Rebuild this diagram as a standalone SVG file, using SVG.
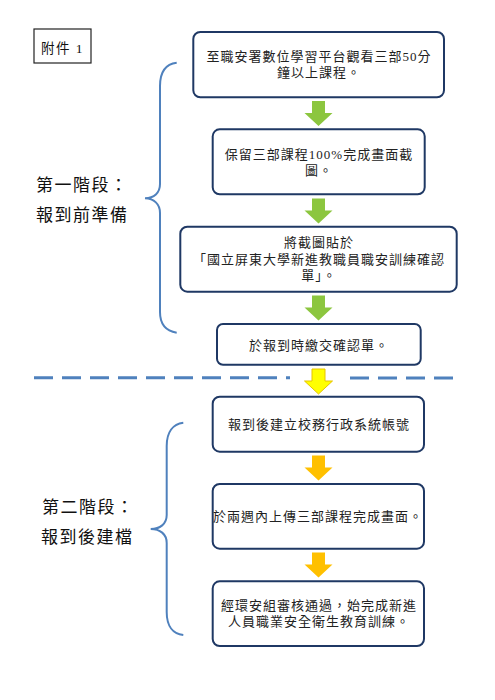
<svg xmlns="http://www.w3.org/2000/svg" width="495" height="700" viewBox="0 0 495 700">
<defs>
<style>
.box{fill:#fff;stroke:#1f3864;stroke-width:2}
.t{font-family:"Liberation Serif","Noto Sans CJK TC",serif;font-size:13px;letter-spacing:1px;fill:#222;text-anchor:middle}
.stage{font-family:"Liberation Serif","Noto Sans CJK TC",serif;font-size:17px;letter-spacing:1.5px;fill:#111}
.brace{fill:none;stroke:#4f81bd;stroke-width:2}
.green{fill:#8cc63f}
.yellow{fill:#ffff00;stroke:#e6c300;stroke-width:1}
.orange{fill:#ffc000}
</style>
<path id="arr" d="M-6.5,0 H6.5 V12 H14 L0,25 L-14,12 H-6.5 Z"/>
</defs>
<rect width="495" height="700" fill="#fff"/>

<g id="tag">
<rect x="34" y="29" width="57" height="34" fill="#fff" stroke="#222" stroke-width="1.2"/>
<text x="62.5" y="52.5" font-family="Liberation Serif,'Noto Sans CJK TC',serif" font-size="13.5" letter-spacing="1.5" text-anchor="middle" fill="#111">附件 1</text>
</g>

<g id="stage1">
<text class="stage" x="36" y="191">第一階段：</text>
<text class="stage" x="36" y="221">報到前準備</text>
</g>
<g id="stage2">
<text class="stage" x="42" y="513">第二階段：</text>
<text class="stage" x="41" y="543">報到後建檔</text>
</g>

<g id="braces">
<path class="brace" d="M176.7,62.7 C166,64 160,72 160,86 L160,184 C160,193 154,198 145,198.3 C154,198.6 160,204 160,213 L160,312 C160,325 166,331 176.7,332.7"/>
<path class="brace" d="M183.3,422.7 C173,424 166.7,432 166.7,446 L166.7,515 C166.7,524 160,529 150.7,529 C160,529 166.7,534 166.7,543 L166.7,612 C166.7,626 173,634 183.3,635"/>
</g>

<g id="divider">
<line x1="34" y1="377.7" x2="290" y2="377.7" stroke="#4f81bd" stroke-width="3" stroke-dasharray="19,9"/>
<line x1="350" y1="378" x2="453" y2="378" stroke="#4f81bd" stroke-width="3" stroke-dasharray="19,9"/>
</g>

<g id="connectors">
<use href="#arr" class="green" x="318.5" y="101"/>
<use href="#arr" class="green" x="318.5" y="198.5"/>
<use href="#arr" class="green" x="318.5" y="295.5"/>
<use href="#arr" class="yellow" x="318.5" y="369"/>
<use href="#arr" class="orange" x="318.5" y="455.5"/>
<use href="#arr" class="orange" x="318.5" y="552.5"/>
</g>

<g id="n1">
<rect class="box" x="193.3" y="32" width="250.7" height="65.3" rx="7"/>
<text class="t" x="319" y="60.5">至職安署數位學習平台觀看三部50分</text>
<text class="t" x="319" y="77">鐘以上課程。</text>
</g>
<g id="n2">
<rect class="box" x="212.7" y="129.3" width="212" height="65" rx="7"/>
<text class="t" x="319" y="158.5">保留三部課程100%完成畫面截</text>
<text class="t" x="319" y="175">圖。</text>
</g>
<g id="n3">
<rect class="box" x="180.3" y="226.7" width="276.4" height="65" rx="7"/>
<text class="t" x="319" y="247">將截圖貼於</text>
<text class="t" x="319" y="263.5">「國立屏東大學新進教職員職安訓練確認</text>
<text class="t" x="319" y="279.5">單」。</text>
</g>
<g id="n4">
<rect class="box" x="217" y="324" width="203.7" height="40.7" rx="6"/>
<text class="t" x="319" y="349.5">於報到時繳交確認單。</text>
</g>
<g id="n5">
<rect class="box" x="212.7" y="396.7" width="211.3" height="55" rx="7"/>
<text class="t" x="319" y="428.5">報到後建立校務行政系統帳號</text>
</g>
<g id="n6">
<rect class="box" x="212.7" y="484" width="211.3" height="64.7" rx="7"/>
<text class="t" x="318" y="520.5">於兩週內上傳三部課程完成畫面。</text>
</g>
<g id="n7">
<rect class="box" x="212.7" y="581.3" width="211.3" height="64.7" rx="7"/>
<text class="t" x="319" y="609.5">經環安組審核通過，始完成新進</text>
<text class="t" x="319" y="626">人員職業安全衛生教育訓練。</text>
</g>
</svg>
